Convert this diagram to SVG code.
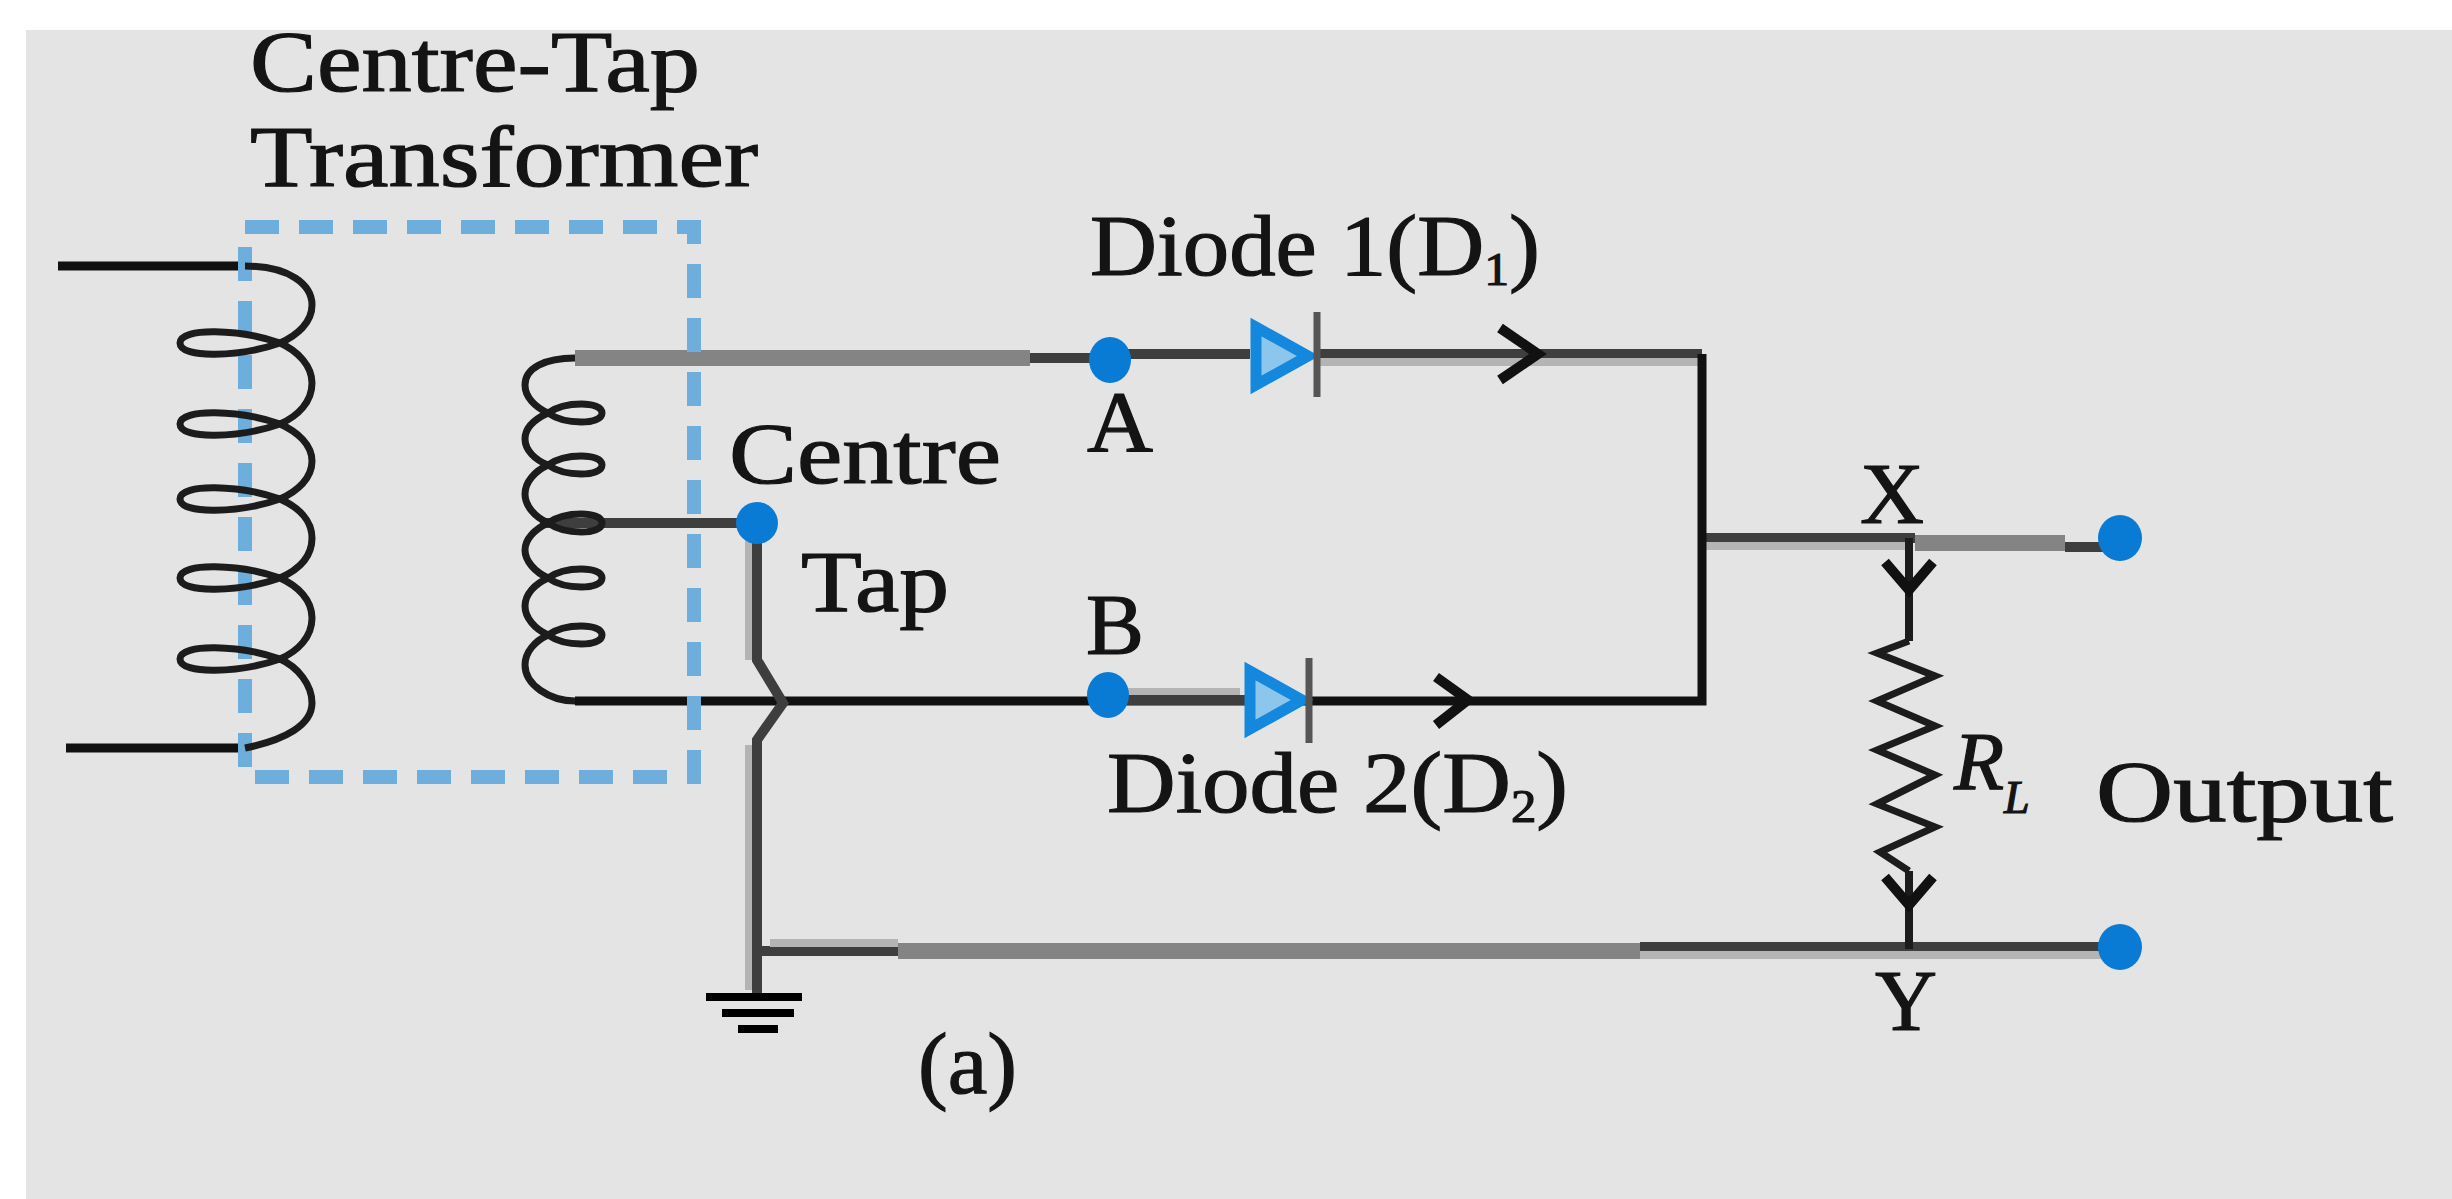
<svg xmlns="http://www.w3.org/2000/svg" width="2452" height="1199" viewBox="0 0 2452 1199">
<defs>
<style>
text{font-family:"Liberation Serif","Times New Roman",serif;font-size:86px;fill:#141414;stroke:#141414;stroke-width:1.2px}
.w{fill:none;stroke:#111;stroke-width:9}
.d{fill:none;stroke:#3e3e3e;stroke-width:10}
.g{fill:none;stroke:#848484;stroke-width:16}
.l{fill:none;stroke:#b4b4b4;stroke-width:8}
.c{fill:none;stroke:#1c1c1c;stroke-width:7}
.dot{fill:#0a7bd4}
.di{fill:#8cc6ec;stroke:#1488dc;stroke-width:11}
.bar{stroke:#555;stroke-width:7}
.ah{fill:none;stroke:#111;stroke-width:10}
.sub{font-size:46px}
</style>
</defs>
<rect x="0" y="0" width="2452" height="1199" fill="#fff"/>
<rect x="26" y="30" width="2426" height="1169" fill="#e4e4e4"/>
<g id="connectors">
<path class="w" d="M58 266H245M66 748H245"/>
<path class="g" d="M575 358H1030M1915 543H2065M898 951H1640"/>
<path class="d" d="M1030 358H1110M1110 354H1250M1320 354H1702M1702 538H1915M2065 547H2120M757 951H898M1640 947H2120M540 523H757"/>
<path class="l" d="M1320 362H1702M1702 546H1905M1640 955H2120M749 540V660M749 745V990M770 943H898M1120 692H1240"/>
<path class="w" d="M575 701H1702V354"/>
<path class="d" d="M757 523V660L783 703L757 740V997M1120 700H1250"/>
<path class="c" d="M1909 538V641M1909 871V949" style="stroke-width:8"/>
</g>
<g id="transformer-box"><rect x="245" y="227" width="449" height="550" fill="none" stroke="#6eaedd" stroke-width="14" stroke-dasharray="34 20"/></g>
<g id="primary-coil"><path class="c" d="M245 266C290 266 312 285 312 305C312 322 298 335 280 343C240 329 180 327 180 343C180 359 240 357 280 343C298 351 312 366 312 383C312 402 298 416 280 424C240 410 180 408 180 424C180 440 240 438 280 424C298 432 312 445 312 461C312 478 298 491 280 499C240 485 180 483 180 499C180 515 240 513 280 499C298 507 312 520 312 538C312 557 298 570 280 578C240 564 180 562 180 578C180 594 240 592 280 578C298 586 312 600 312 618C312 637 298 651 280 659C240 645 180 643 180 659C180 675 240 673 280 659C298 667 312 685 312 703C312 725 285 740 245 748"/></g>
<g id="secondary-coil"><path class="c" d="M575 358C545 358 525 368 525 385C525 397 535 407 548 413C565 401 602 401 602 413C602 425 565 425 548 413C535 419 525 428 525 439C525 450 535 460 548 465C565 453 602 453 602 465C602 477 565 477 548 465C535 471 525 482 525 494C525 506 535 517 548 523C565 511 602 511 602 523C602 535 565 535 548 523C535 529 525 539 525 550C525 561 535 572 548 578C565 566 602 566 602 578C602 590 565 590 548 578C535 584 525 594 525 606C525 618 535 629 548 635C565 623 602 623 602 635C602 647 565 647 548 635C535 641 525 652 525 665C525 685 550 701 575 701"/></g>
<g id="centre-tap"><circle class="dot" cx="757" cy="523" r="21"/><text x="729" y="483" textLength="272" lengthAdjust="spacingAndGlyphs">Centre</text><text x="801" y="611" textLength="148" lengthAdjust="spacingAndGlyphs">Tap</text></g>
<g id="node-a"><ellipse class="dot" cx="1110" cy="360" rx="21" ry="23"/><text x="1087" y="451" textLength="66" lengthAdjust="spacingAndGlyphs">A</text></g>
<g id="node-b"><ellipse class="dot" cx="1108" cy="695" rx="21" ry="23"/><text x="1086" y="654" textLength="58" lengthAdjust="spacingAndGlyphs">B</text></g>
<g id="diode-1"><path class="di" d="M1256 327L1308 356L1256 385Z"/><line class="bar" x1="1317" y1="312" x2="1317" y2="397"/><path class="ah" d="M1500 328L1538 354L1500 380"/></g>
<g id="diode-2"><path class="di" d="M1250 671L1302 700L1250 729Z"/><line class="bar" x1="1309" y1="658" x2="1309" y2="743"/><path class="ah" d="M1436 677L1468 700L1436 725"/></g>
<g id="load-resistor"><path class="c" d="M1909 641L1877 653L1935 676L1877 701L1935 726L1877 750L1935 775L1877 804L1935 827L1880 852L1909 871"/><path class="ah" d="M1885 562L1909 590L1933 562"/><path class="ah" d="M1885 877L1909 905L1933 877"/></g>
<g id="output-x"><ellipse class="dot" cx="2120" cy="538" rx="22" ry="23"/><text x="1860" y="523" textLength="64" lengthAdjust="spacingAndGlyphs">X</text></g>
<g id="output-y"><ellipse class="dot" cx="2120" cy="947" rx="22" ry="23"/><text x="1875" y="1030" textLength="62" lengthAdjust="spacingAndGlyphs">Y</text></g>
<g id="ground"><path d="M706 997H802M722 1013H794M738 1029H778" fill="none" stroke="#000" stroke-width="8"/></g>
<g id="labels">
<text x="250" y="91" textLength="450" lengthAdjust="spacingAndGlyphs">Centre-Tap</text>
<text x="250" y="186" textLength="508" lengthAdjust="spacingAndGlyphs">Transformer</text>
<text x="1090" y="275" textLength="450" lengthAdjust="spacingAndGlyphs">Diode 1(D<tspan class="sub" dy="10">1</tspan><tspan dy="-10">)</tspan></text>
<text x="1107" y="812" textLength="461" lengthAdjust="spacingAndGlyphs">Diode 2(D<tspan class="sub" dy="10">2</tspan><tspan dy="-10">)</tspan></text>
<text x="1954" y="789" style="font-style:italic;font-size:82px">R<tspan class="sub" dy="24">L</tspan></text>
<text x="2096" y="821" textLength="297" lengthAdjust="spacingAndGlyphs">Output</text>
<text x="918" y="1093" textLength="99" lengthAdjust="spacingAndGlyphs">(a)</text>
</g>
</svg>
